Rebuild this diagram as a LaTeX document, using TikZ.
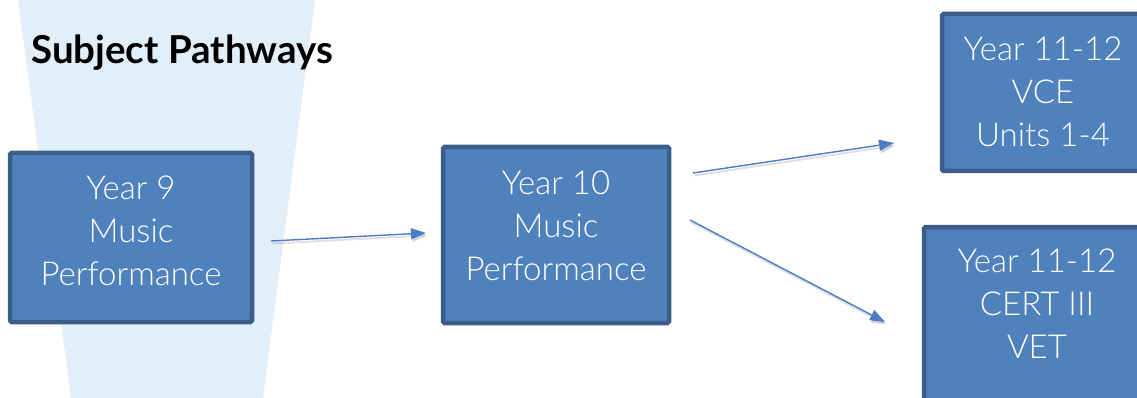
\documentclass[tikz,border=0pt]{standalone}
\usepackage{fontspec}
\setmainfont{Lato}
\newfontfamily\boxfont{Lato Light}
\usetikzlibrary{arrows.meta}
\definecolor{boxfill}{HTML}{4F81BD}
\definecolor{boxline}{HTML}{3B5D8A}
\definecolor{arrowblue}{HTML}{4A7EC4}
\definecolor{band}{HTML}{E3EFF8}
\begin{document}
\begin{tikzpicture}[x=1pt,y=-1pt,
  stagebox/.style={draw=boxline, line width=4.5pt, fill=boxfill, rounded corners=1.5pt, inner sep=0pt},
  stagetext/.style={text=white, align=center, anchor=base, inner sep=0pt,
    font=\boxfont\fontsize{33}{43}\selectfont},
  flow/.style={draw=arrowblue, line width=1.4pt, -{Triangle[length=15pt,width=11pt]}},
  flowshadow/.style={draw=black, line width=1.8pt, opacity=0.13,
    -{Triangle[length=15pt,width=11pt]}, transform canvas={shift={(1.5pt,-2.5pt)}}}]
\useasboundingbox (0,0) rectangle (1137,398);
\clip (0,0) rectangle (1137,398);
% light band behind the heading
\fill[band] (18,0) -- (315,0) -- (263,398) -- (71,398) -- cycle;
\node[anchor=base west, inner sep=0pt, font=\bfseries\fontsize{38.5}{40}\selectfont] (title) at (31,64) {Subject Pathways};
% stage boxes
\node[stagebox, minimum width=242pt, minimum height=169pt] (y9) at (131,237.5) {};
\node[stagebox, minimum width=226pt, minimum height=176pt] (y10) at (556,235) {};
\node[stagebox, minimum width=218pt, minimum height=157pt] (vce) at (1051,92.5) {};
\node[stagebox, minimum width=234pt, minimum height=201pt] (vet) at (1041,327.5) {};
% box labels (anchored at the baseline of the last line)
\node[stagetext] (y9t) at (131,285) {Year 9\\Music\\Performance};
\node[stagetext] (y10t) at (556,280) {Year 10\\Music\\Performance};
\node[stagetext] (vcet) at (1043,147) {Year 11-12\\VCE\\Units 1-4};
\node[stagetext] (vett) at (1037,358) {Year 11-12\\CERT III\\VET};
% arrow ends
\coordinate (a1s) at (271,241); \coordinate (a1e) at (426,233);
\coordinate (a2s) at (693,173); \coordinate (a2e) at (894,143);
\coordinate (a3s) at (690,220); \coordinate (a3e) at (885,322);
\draw[flowshadow] (a1s) -- (a1e);
\draw[flowshadow] (a2s) -- (a2e);
\draw[flowshadow] (a3s) -- (a3e);
\draw[flow] (a1s) -- (a1e);
\draw[flow] (a2s) -- (a2e);
\draw[flow] (a3s) -- (a3e);
\end{tikzpicture}
\end{document}
